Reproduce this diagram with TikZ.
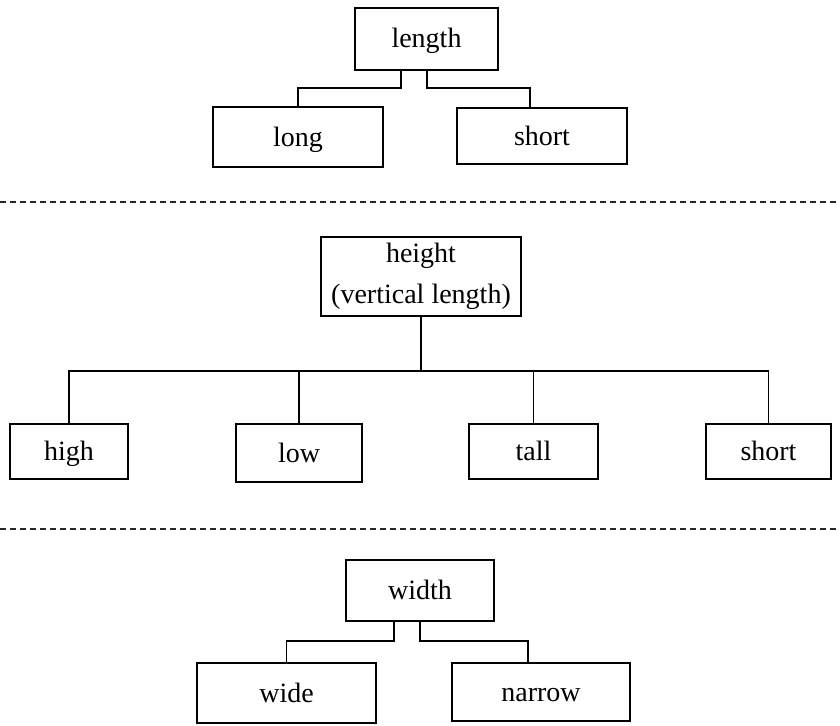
\documentclass[tikz,border=0pt]{standalone}
\usepackage{fontspec}
\setmainfont{Liberation Serif}
\usetikzlibrary{calc}
\begin{document}
\begin{tikzpicture}[x=1pt,y=-1pt,
  box/.style={draw=black, line width=1.9pt, inner sep=0pt, align=center,
    font=\fontsize{28}{41}\selectfont},
  one/.style={box, text height=19pt, text depth=1pt},
  link/.style={draw=black, line width=1.9pt},
  sep/.style={draw=black!85, line width=1.3pt, dash pattern=on 6pt off 4pt}]
\useasboundingbox (0,0) rectangle (840,725);

% length section
\node[one, minimum width=143pt, minimum height=62pt] (length) at (426.5,39) {length};
\node[one, minimum width=170pt, minimum height=60pt] (long) at (298,137) {long};
\node[one, minimum width=170pt, minimum height=56pt] (short) at (542,136) {short};
\draw[link] ([xshift=-25.5pt]length.south) -- ++(0,17) -| (long.north);
\draw[link] ([xshift=0.5pt]length.south) -- ++(0,17) -| ([xshift=-12pt]short.north);

\draw[sep] (0,202) -- (840,202);

% height section
\node[box, minimum width=200pt, minimum height=79pt] (height) at (421,276.5) {height\\(vertical length)};
\node[one, minimum width=118pt, minimum height=55pt] (high) at (69,451.5) {high};
\node[one, minimum width=126pt, minimum height=58pt] (low) at (299,453) {low};
\node[one, minimum width=129pt, minimum height=55pt] (tall) at (533.5,451.5) {tall};
\node[one, minimum width=125pt, minimum height=55pt] (shorth) at (768.5,451.5) {short};
\draw[link] (height.south) -- ++(0,54) coordinate (hb);
\draw[link] (high.north) |- (hb) -| (shorth.north);
\draw[link] (low.north) -- (low.north |- hb);
\draw[link] (tall.north) -- (tall.north |- hb);

\draw[sep] (0,529) -- (840,529);

% width section
\node[one, minimum width=148pt, minimum height=61pt] (width) at (420,590.5) {width};
\node[one, minimum width=179pt, minimum height=60pt] (wide) at (286.5,693) {wide};
\node[one, minimum width=178pt, minimum height=58pt] (narrow) at (541,692) {narrow};
\draw[link] ([xshift=-26pt]width.south) -- ++(0,19) -| (wide.north);
\draw[link] (width.south) -- ++(0,19) -| ([xshift=-13pt]narrow.north);
\end{tikzpicture}
\end{document}
